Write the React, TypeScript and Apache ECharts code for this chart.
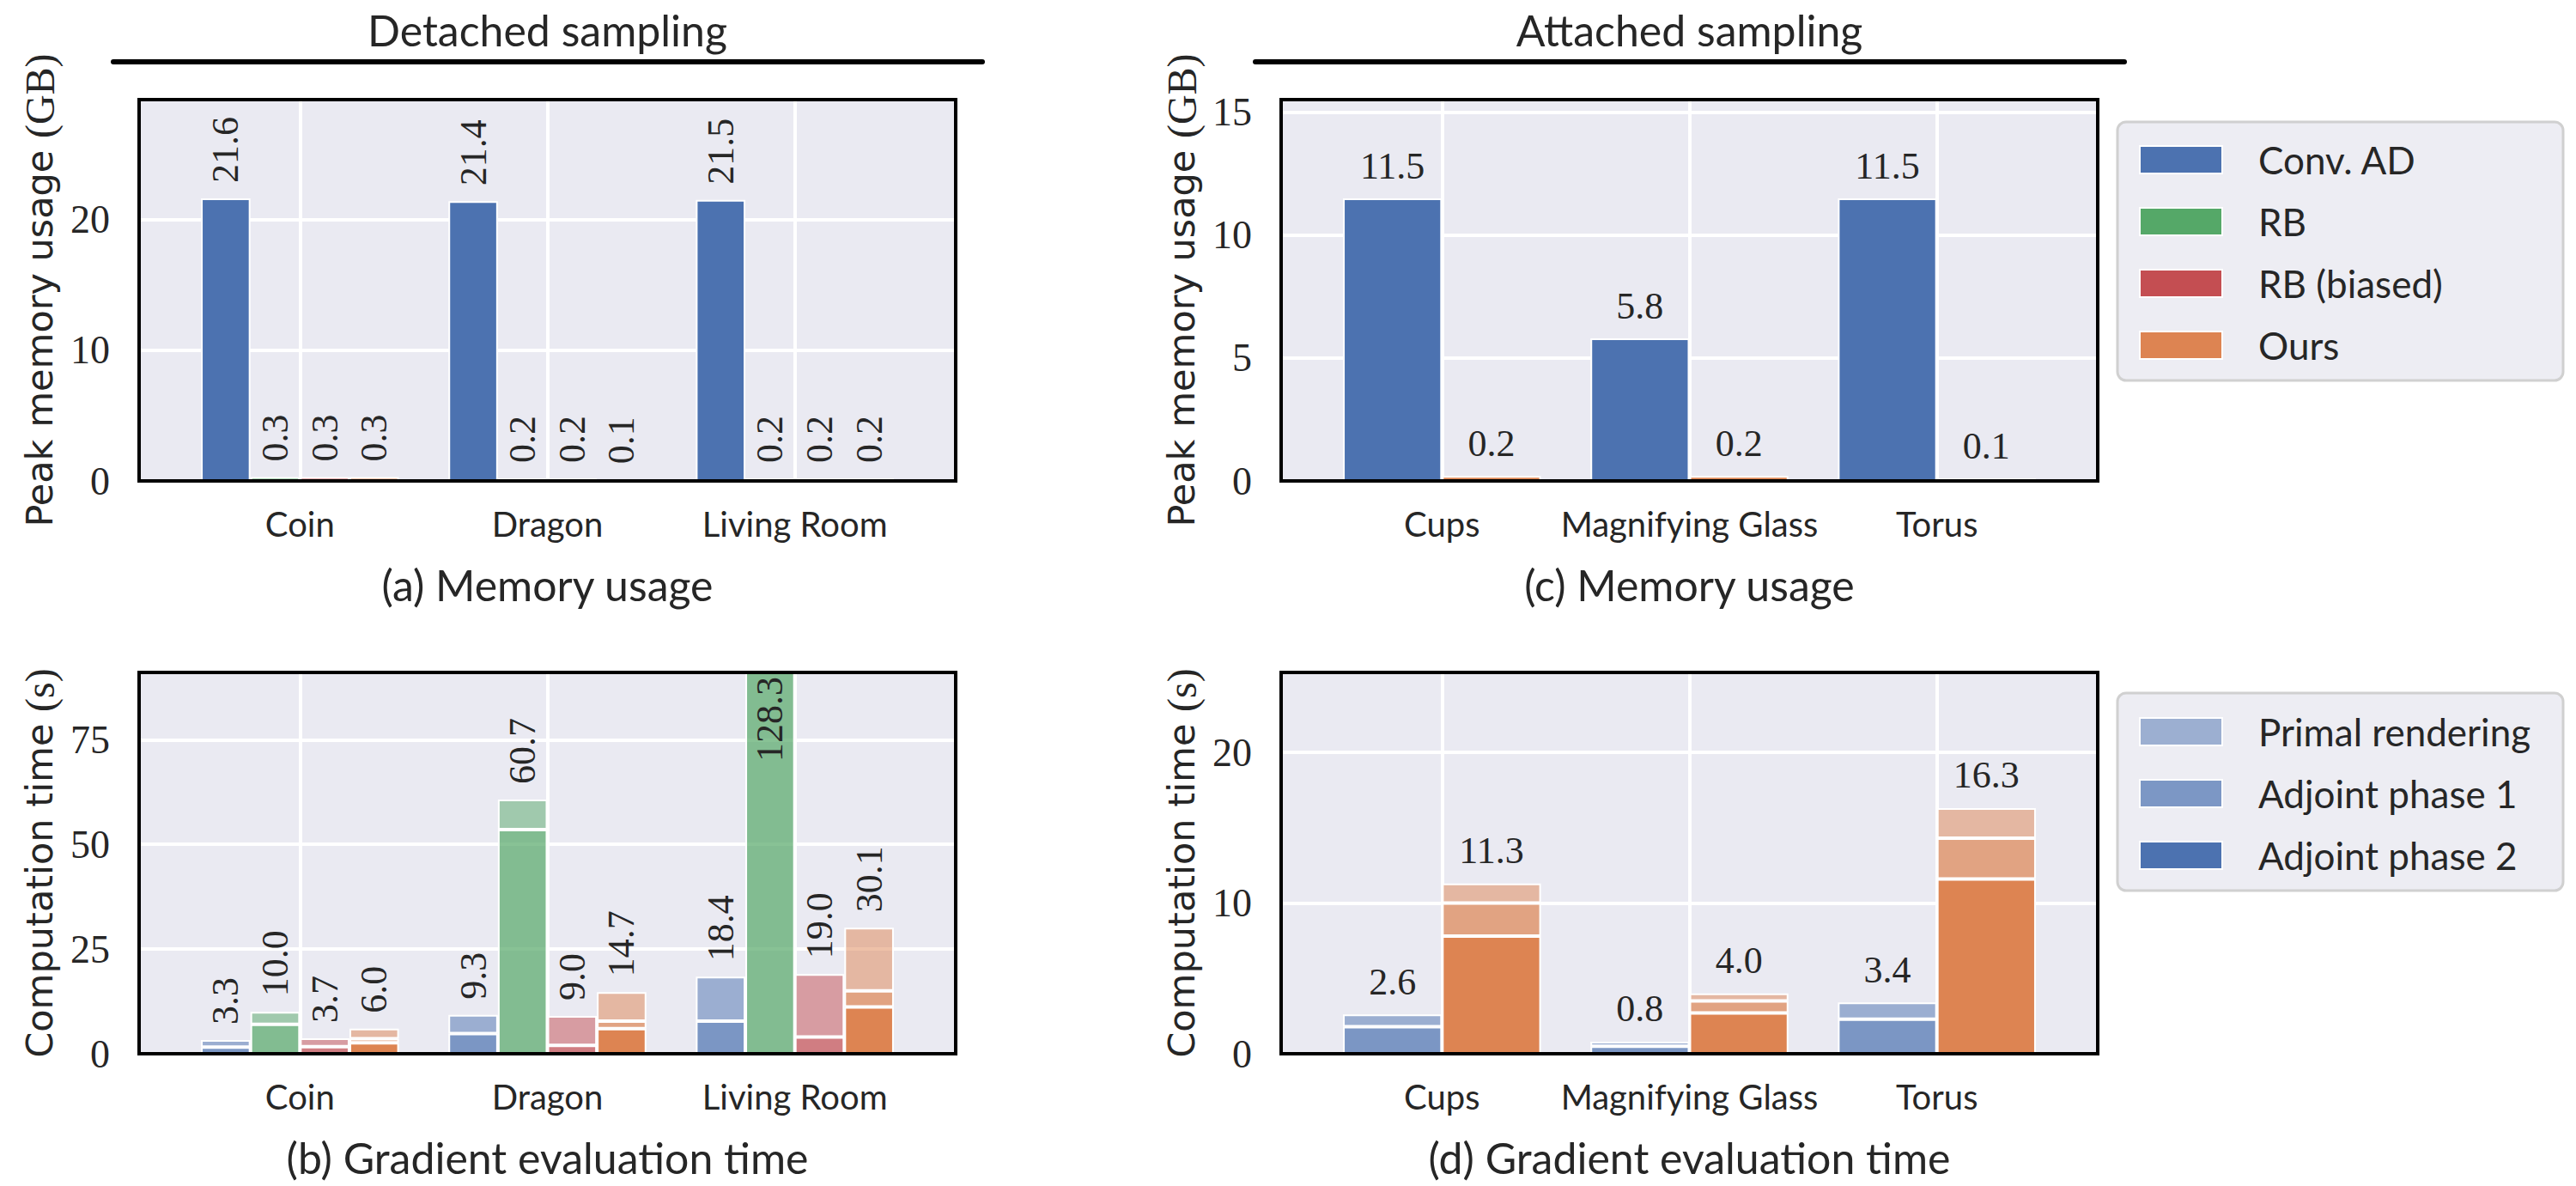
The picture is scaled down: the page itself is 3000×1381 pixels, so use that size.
import React, { useEffect, useRef } from "react";
import * as echarts from "echarts";

// ---------------- data ----------------
const detachedScenes = ["Coin", "Dragon", "Living Room"];
const attachedScenes = ["Cups", "Magnifying Glass", "Torus"];
const methodNames = ["Conv. AD", "RB", "RB (biased)", "Ours"];
const phaseNames = ["Primal rendering", "Adjoint phase 1", "Adjoint phase 2"];
const groupTitles = ["Detached sampling", "Attached sampling"];
const captions = ["(a) Memory usage", "(b) Gradient evaluation time", "(c) Memory usage", "(d) Gradient evaluation time"];

// (a) peak memory, detached (GB)
const memDetachedConvAD = [21.6, 21.4, 21.5];
const memDetachedRB = [0.3, 0.2, 0.2];
const memDetachedRBBiased = [0.3, 0.2, 0.2];
const memDetachedOurs = [0.3, 0.1, 0.2];
// (c) peak memory, attached (GB)
const memAttachedConvAD = [11.5, 5.8, 11.5];
const memAttachedOurs = [0.2, 0.2, 0.1];

// (b) computation time, detached (s) — segments, bottom to top
const timeDetConvADAdj1 = [1.6, 4.8, 7.8];
const timeDetConvADPrimal = [1.7, 4.5, 10.6];
const timeDetRBAdj1 = [7.0, 53.5, 116.0];
const timeDetRBPrimal = [3.0, 7.2, 12.3];
const timeDetRBBiasedAdj1 = [1.7, 2.0, 4.0];
const timeDetRBBiasedPrimal = [2.0, 7.0, 15.0];
const timeDetOursAdj2 = [2.6, 6.0, 11.2];
const timeDetOursAdj1 = [1.0, 1.8, 3.8];
const timeDetOursPrimal = [2.4, 6.9, 15.1];
// (d) computation time, attached (s) — segments, bottom to top
const timeAttConvADAdj1 = [1.8, 0.5, 2.3];
const timeAttConvADPrimal = [0.8, 0.3, 1.1];
const timeAttOursAdj2 = [7.8, 2.7, 11.6];
const timeAttOursAdj1 = [2.2, 0.8, 2.7];
const timeAttOursPrimal = [1.3, 0.5, 2.0];

// axis ranges / ticks
const yMaxA = 29.16, yStepA = 10;
const yMaxB = 91.05, yStepB = 25;
const yMaxC = 15.52, yStepC = 5;
const yMaxD = 25.3, yStepD = 10;

// ---------------- style ----------------
const BLUE = "#4C72B0";
const GREEN = "#55A868";
const RED = "#C44E52";
const ORANGE = "#DD8452";
const TEXT = "#262626";
const BG = "#EAEAF2";
const SANS = "Lato";
const SERIF = "'Liberation Serif', 'DejaVu Serif', serif";

const COL_X = [162, 1492];
const ROW_Y = [116, 783];
const PW = 951;
const PH = 444;
const X_MIN = -0.65;
const X_MAX = 2.65;
const UNIT = PW / (X_MAX - X_MIN);
const W4 = UNIT * 0.2;
const W2 = UNIT * 0.4;

function rgba(hex: string, a: number) {
  const n = parseInt(hex.slice(1), 16);
  return `rgba(${(n >> 16) & 255},${(n >> 8) & 255},${n & 255},${a})`;
}

const rotLabel = {
  show: true,
  position: "top",
  rotate: 90,
  align: "left",
  verticalAlign: "middle",
  distance: 18,
  fontFamily: SERIF,
  fontSize: 44,
  color: TEXT,
};
const insideRotLabel = {
  show: true,
  position: "insideTop",
  rotate: 90,
  align: "right",
  verticalAlign: "middle",
  distance: 6,
  fontFamily: SERIF,
  fontSize: 44,
  color: TEXT,
};
const flatLabel = {
  show: true,
  position: "top",
  distance: 16,
  fontFamily: SERIF,
  fontSize: 44,
  color: TEXT,
};

// [value, categoryIndex] so that the value dimension is the stacked one
const pts = (vals: number[]) => vals.map((v, i) => [v, i]);
const ENC = { x: 1, y: 0 };

function simpleBar(axis: number, name: string, color: string, vals: number[], width: number, label: any) {
  return {
    type: "bar",
    name,
    xAxisIndex: axis,
    yAxisIndex: axis,
    encode: ENC,
    barWidth: width,
    barGap: "0%",
    itemStyle: { color, borderColor: "#fff", borderWidth: 2 },
    label: { ...label, formatter: (p: any) => Number(p.value[0]).toFixed(1) },
    data: pts(vals),
  };
}

type Seg = { name: string; vals: number[]; alpha: number };
function stackGroup(
  axis: number,
  stack: string,
  color: string,
  segs: Seg[],
  width: number,
  topLabel: any,
  insideIdx: number[] = []
) {
  const totals = segs[0].vals.map((_, i) => segs.reduce((s, g) => s + g.vals[i], 0));
  return segs.map((seg, k) => {
    const isTop = k === segs.length - 1;
    return {
      type: "bar",
      name: seg.name,
      xAxisIndex: axis,
      yAxisIndex: axis,
      encode: ENC,
      stack,
      barWidth: width,
      barGap: "0%",
      itemStyle: { color: rgba(color, seg.alpha), borderColor: "#fff", borderWidth: 2 },
      data: seg.vals.map((v, i) => {
        const item: any = { value: [v, i] };
        const txt = totals[i].toFixed(1);
        if (insideIdx.includes(i)) {
          item.label = k === 0 ? { ...insideRotLabel, formatter: () => txt } : { show: false };
        } else if (isTop) {
          item.label = { ...topLabel, formatter: () => txt };
        } else {
          item.label = { show: false };
        }
        return item;
      }),
    };
  });
}

function xAxisFor(gridIndex: number, cats: string[]) {
  return {
    type: "value",
    gridIndex,
    min: X_MIN,
    max: X_MAX,
    minInterval: 1,
    maxInterval: 1,
    axisLine: { show: false },
    axisTick: { show: false },
    splitLine: { show: true, lineStyle: { color: "#ffffff", width: 4 } },
    axisLabel: {
      margin: 30,
      fontFamily: SANS,
      fontSize: 40,
      color: TEXT,
      formatter: (v: number) => {
        const i = Math.round(v);
        return Math.abs(v - i) < 1e-6 && i >= 0 && i < cats.length ? cats[i] : "";
      },
    },
  };
}

function yAxisFor(gridIndex: number, max: number, step: number, label: string, unit: string) {
  return {
    type: "value",
    gridIndex,
    min: 0,
    max,
    interval: step,
    axisLine: { show: false },
    axisTick: { show: false },
    splitLine: { show: true, lineStyle: { color: "#ffffff", width: 4 } },
    axisLabel: {
      margin: 34,
      fontFamily: SERIF,
      fontSize: 46,
      color: TEXT,
      formatter: (v: number) => {
        const r = v / step;
        return Math.abs(r - Math.round(r)) < 1e-6 ? String(Math.round(v)) : "";
      },
    },
    name: `{s|${label} }{m|${unit}}`,
    nameLocation: "middle",
    nameGap: 92,
    nameRotate: 90,
    nameTextStyle: {
      rich: {
        s: { fontFamily: "'DejaVu Sans'", fontSize: 43, color: TEXT },
        m: { fontFamily: SERIF, fontSize: 48, color: TEXT },
      },
    },
  };
}

function buildOption() {
  const grids = [
    { left: COL_X[0], top: ROW_Y[0] },
    { left: COL_X[0], top: ROW_Y[1] },
    { left: COL_X[1], top: ROW_Y[0] },
    { left: COL_X[1], top: ROW_Y[1] },
  ].map((g) => ({ ...g, width: PW, height: PH, show: true, backgroundColor: BG, borderWidth: 0 }));

  const xAxis = [
    xAxisFor(0, detachedScenes),
    xAxisFor(1, detachedScenes),
    xAxisFor(2, attachedScenes),
    xAxisFor(3, attachedScenes),
  ];
  const yAxis = [
    yAxisFor(0, yMaxA, yStepA, "Peak memory usage", "(GB)"),
    yAxisFor(1, yMaxB, yStepB, "Computation time", "(s)"),
    yAxisFor(2, yMaxC, yStepC, "Peak memory usage", "(GB)"),
    yAxisFor(3, yMaxD, yStepD, "Computation time", "(s)"),
  ];

  const series: any[] = [
    simpleBar(0, methodNames[0], BLUE, memDetachedConvAD, W4, rotLabel),
    simpleBar(0, methodNames[1], GREEN, memDetachedRB, W4, rotLabel),
    simpleBar(0, methodNames[2], RED, memDetachedRBBiased, W4, rotLabel),
    simpleBar(0, methodNames[3], ORANGE, memDetachedOurs, W4, rotLabel),

    ...stackGroup(1, "b-conv", BLUE, [
      { name: phaseNames[1], vals: timeDetConvADAdj1, alpha: 0.7 },
      { name: phaseNames[0], vals: timeDetConvADPrimal, alpha: 0.5 },
    ], W4, rotLabel),
    ...stackGroup(1, "b-rb", GREEN, [
      { name: phaseNames[1], vals: timeDetRBAdj1, alpha: 0.7 },
      { name: phaseNames[0], vals: timeDetRBPrimal, alpha: 0.5 },
    ], W4, rotLabel, [2]),
    ...stackGroup(1, "b-rbb", RED, [
      { name: phaseNames[1], vals: timeDetRBBiasedAdj1, alpha: 0.7 },
      { name: phaseNames[0], vals: timeDetRBBiasedPrimal, alpha: 0.5 },
    ], W4, rotLabel),
    ...stackGroup(1, "b-ours", ORANGE, [
      { name: phaseNames[2], vals: timeDetOursAdj2, alpha: 1 },
      { name: phaseNames[1], vals: timeDetOursAdj1, alpha: 0.7 },
      { name: phaseNames[0], vals: timeDetOursPrimal, alpha: 0.5 },
    ], W4, rotLabel),

    simpleBar(2, methodNames[0], BLUE, memAttachedConvAD, W2, flatLabel),
    simpleBar(2, methodNames[3], ORANGE, memAttachedOurs, W2, flatLabel),

    ...stackGroup(3, "d-conv", BLUE, [
      { name: phaseNames[1], vals: timeAttConvADAdj1, alpha: 0.7 },
      { name: phaseNames[0], vals: timeAttConvADPrimal, alpha: 0.5 },
    ], W2, flatLabel),
    ...stackGroup(3, "d-ours", ORANGE, [
      { name: phaseNames[2], vals: timeAttOursAdj2, alpha: 1 },
      { name: phaseNames[1], vals: timeAttOursAdj1, alpha: 0.7 },
      { name: phaseNames[0], vals: timeAttOursPrimal, alpha: 0.5 },
    ], W2, flatLabel),
  ];

  const legendText = { fontFamily: SANS, fontSize: 44, color: TEXT, padding: [0, 0, 0, 37] };
  const legendBase = {
    orient: "vertical",
    left: 2486,
    itemWidth: 96,
    itemHeight: 32,
    itemGap: 28,
    icon: "rect",
    selectedMode: false,
    textStyle: legendText,
  };
  const legend = [
    { ...legendBase, top: 159, data: methodNames.map((n) => ({ name: n })) },
    {
      ...legendBase,
      top: 825,
      data: [
        { name: phaseNames[0], itemStyle: { color: rgba(BLUE, 0.5) } },
        { name: phaseNames[1], itemStyle: { color: rgba(BLUE, 0.7) } },
        { name: phaseNames[2], itemStyle: { color: BLUE } },
      ],
    },
  ];

  const graphic: any[] = [];
  [0, 1].forEach((c) => {
    const cx = COL_X[c] + PW / 2;
    graphic.push({
      type: "text",
      x: cx,
      y: 35,
      style: { text: groupTitles[c], font: `50px ${SANS}`, fill: TEXT, align: "center", verticalAlign: "middle" },
    });
    graphic.push({
      type: "line",
      shape: { x1: COL_X[c] - 30, y1: 72, x2: COL_X[c] + PW + 31, y2: 72 },
      style: { stroke: "#000", lineWidth: 6, lineCap: "round" },
    });
  });
  const capPos = [
    [0, 681],
    [0, 1348],
    [1, 681],
    [1, 1348],
  ];
  capPos.forEach(([c, y], i) => {
    graphic.push({
      type: "text",
      x: COL_X[c] + PW / 2,
      y,
      style: { text: captions[i], font: `50px ${SANS}`, fill: TEXT, align: "center", verticalAlign: "middle" },
    });
  });
  grids.forEach((g) => {
    graphic.push({
      type: "rect",
      z: 50,
      shape: { x: g.left, y: g.top, width: PW, height: PH },
      style: { fill: "none", stroke: "#000", lineWidth: 4 },
    });
  });
  graphic.push({
    type: "rect",
    z: 1,
    shape: { x: 2466, y: 142, width: 519, height: 301, r: 10 },
    style: { fill: "#EDEDF3", stroke: "#D0D0D0", lineWidth: 3 },
  });
  graphic.push({
    type: "rect",
    z: 1,
    shape: { x: 2466, y: 807, width: 519, height: 230, r: 10 },
    style: { fill: "#EDEDF3", stroke: "#D0D0D0", lineWidth: 3 },
  });

  return {
    animation: false,
    backgroundColor: "#ffffff",
    grid: grids,
    xAxis,
    yAxis,
    series,
    legend,
    graphic,
  };
}

export default function App() {
  const ref = useRef<HTMLDivElement>(null);
  useEffect(() => {
    if (!ref.current) return;
    const chart = echarts.init(ref.current, null, { renderer: "svg" });
    chart.setOption(buildOption() as any);
    return () => chart.dispose();
  }, []);
  return (
    <div
      ref={ref}
      style={{ position: "fixed", left: 0, top: 0, width: 3000, height: 1381, background: "#fff" }}
    />
  );
}
